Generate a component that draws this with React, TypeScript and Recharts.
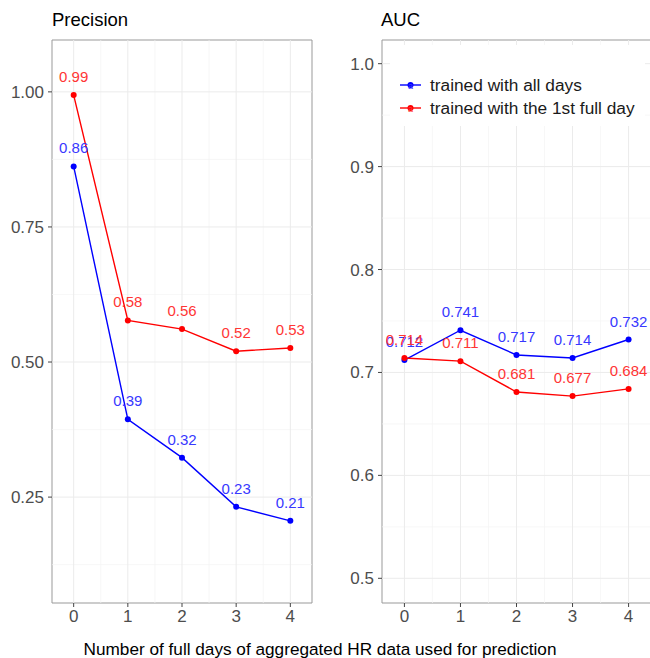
import React from 'react';
import { LineChart, Line, XAxis, YAxis, ReferenceLine, ReferenceArea } from 'recharts';

const days = [0, 1, 2, 3, 4];
const dayMinor = [0.5, 1.5, 2.5, 3.5];

const precisionAll = [0.862, 0.394, 0.323, 0.232, 0.206];
const precisionFirst = [0.994, 0.577, 0.561, 0.52, 0.526];
const aucAll = [0.712, 0.741, 0.717, 0.714, 0.732];
const aucFirst = [0.714, 0.711, 0.681, 0.677, 0.684];

const precisionTicks = [0.25, 0.5, 0.75, 1.0];
const precisionMinor = [0.125, 0.375, 0.625, 0.875];
const aucTicks = [0.5, 0.6, 0.7, 0.8, 0.9, 1.0];
const aucMinor = [0.55, 0.65, 0.75, 0.85, 0.95];

const seriesNames = ['trained with all days', 'trained with the 1st full day'];
const seriesColors = ['#0000ff', '#ff0000'];
const labelColors = ['#3838ff', '#ff3535'];

const FONT = '"Liberation Sans", Arial, sans-serif';
const X_DOMAIN: [number, number] = [-0.4, 4.4];

const buildRows = (a: number[], b: number[]) =>
  days.map((d, i) => ({ day: d, all: a[i], first: b[i] }));

interface PanelProps {
  rows: any[];
  domain: [number, number];
  ticks: number[];
  minor: number[];
  tickDigits: number;
  labelDigits: number;
  width: number;
  marginRight: number;
}

const Panel = ({ rows, domain, ticks, minor, tickDigits, labelDigits, width, marginRight }: PanelProps) => {
  const makeLabel = (color: string) => (props: any) => {
    const { x, y, value } = props;
    return (
      <text x={x} y={y - 13} textAnchor="middle" fill={color} fontSize={15} fontFamily={FONT}>
        {Number(value).toFixed(labelDigits)}
      </text>
    );
  };

  return (
    <LineChart
      width={width}
      height={658}
      data={rows}
      margin={{ top: 40, right: marginRight, left: 0, bottom: 30 }}
    >
      <XAxis
        dataKey="day"
        type="number"
        domain={X_DOMAIN}
        ticks={days}
        allowDataOverflow
        height={25}
        axisLine={false}
        tickLine={{ stroke: '#444' }}
        tickSize={4}
        tickMargin={3}
        tick={{ fontSize: 17, fill: '#4d4d4d', fontFamily: FONT }}
      />
      <YAxis
        type="number"
        domain={domain}
        ticks={ticks}
        allowDataOverflow
        width={52}
        axisLine={false}
        tickLine={{ stroke: '#444' }}
        tickSize={4}
        tickMargin={4}
        tickFormatter={(v: number) => v.toFixed(tickDigits)}
        tick={{ fontSize: 17, fill: '#4d4d4d', fontFamily: FONT }}
      />
      {minor.map((v) => (
        <ReferenceLine key={'ym' + v} y={v} stroke="#f3f3f3" strokeWidth={0.7} />
      ))}
      {dayMinor.map((v) => (
        <ReferenceLine key={'xm' + v} x={v} stroke="#f3f3f3" strokeWidth={0.7} />
      ))}
      {ticks.map((v) => (
        <ReferenceLine key={'y' + v} y={v} stroke="#ebebeb" strokeWidth={1} />
      ))}
      {days.map((v) => (
        <ReferenceLine key={'x' + v} x={v} stroke="#ebebeb" strokeWidth={1} />
      ))}
      <Line
        dataKey="all"
        stroke={seriesColors[0]}
        strokeWidth={1.4}
        dot={{ r: 3, fill: seriesColors[0], stroke: 'none' }}
        label={makeLabel(labelColors[0])}
        isAnimationActive={false}
      />
      <Line
        dataKey="first"
        stroke={seriesColors[1]}
        strokeWidth={1.4}
        dot={{ r: 3, fill: seriesColors[1], stroke: 'none' }}
        label={makeLabel(labelColors[1])}
        isAnimationActive={false}
      />
      <ReferenceArea
        x1={X_DOMAIN[0]}
        x2={X_DOMAIN[1]}
        y1={domain[0]}
        y2={domain[1]}
        fill="none"
        stroke="#999"
        strokeWidth={1}
        ifOverflow="visible"
      />
    </LineChart>
  );
};

const LegendBox = () => (
  <div
    style={{
      position: 'absolute',
      left: 390,
      top: 45,
      width: 255,
      height: 81,
      background: '#fff',
    }}
  >
    {seriesNames.map((name, i) => (
      <div
        key={name}
        style={{ position: 'absolute', left: 0, top: 29 + i * 23, height: 22, display: 'flex', alignItems: 'center' }}
      >
        <svg width={40} height={22} style={{ display: 'block' }}>
          <line x1={10} x2={31} y1={11} y2={11} stroke={seriesColors[i]} strokeWidth={1.4} />
          <circle cx={20.5} cy={11} r={3} fill={seriesColors[i]} />
          <text x={20.5} y={15} textAnchor="middle" fontSize={9} fill={labelColors[i]} fontFamily={FONT}>
            a
          </text>
        </svg>
        <span style={{ fontSize: 17.3, color: '#1a1a1a', fontFamily: FONT, whiteSpace: 'nowrap' }}>{name}</span>
      </div>
    ))}
  </div>
);

export default function App() {
  const precisionRows = buildRows(precisionAll, precisionFirst);
  const aucRows = buildRows(aucAll, aucFirst);

  return (
    <div
      style={{
        position: 'absolute',
        left: 0,
        top: 0,
        width: 650,
        height: 658,
        background: '#fff',
        fontFamily: FONT,
        overflow: 'hidden',
      }}
    >
      <div style={{ position: 'absolute', left: 0, top: 0 }}>
        <Panel
          rows={precisionRows}
          domain={[0.054, 1.096]}
          ticks={precisionTicks}
          minor={precisionMinor}
          tickDigits={2}
          labelDigits={2}
          width={330}
          marginRight={18}
        />
      </div>
      <div style={{ position: 'absolute', left: 330, top: 0 }}>
        <Panel
          rows={aucRows}
          domain={[0.476, 1.023]}
          ticks={aucTicks}
          minor={aucMinor}
          tickDigits={1}
          labelDigits={3}
          width={321}
          marginRight={0}
        />
      </div>
      <LegendBox />
      <div style={{ position: 'absolute', left: 52, top: 9, fontSize: 18.5, lineHeight: '22px', color: '#000' }}>
        Precision
      </div>
      <div style={{ position: 'absolute', left: 381, top: 9, fontSize: 18.5, lineHeight: '22px', color: '#000' }}>
        AUC
      </div>
      <div
        style={{
          position: 'absolute',
          left: 0,
          width: 640,
          top: 638,
          fontSize: 17.2,
          lineHeight: '22px',
          textAlign: 'center',
          color: '#000',
        }}
      >
        Number of full days of aggregated HR data used for prediction
      </div>
    </div>
  );
}
